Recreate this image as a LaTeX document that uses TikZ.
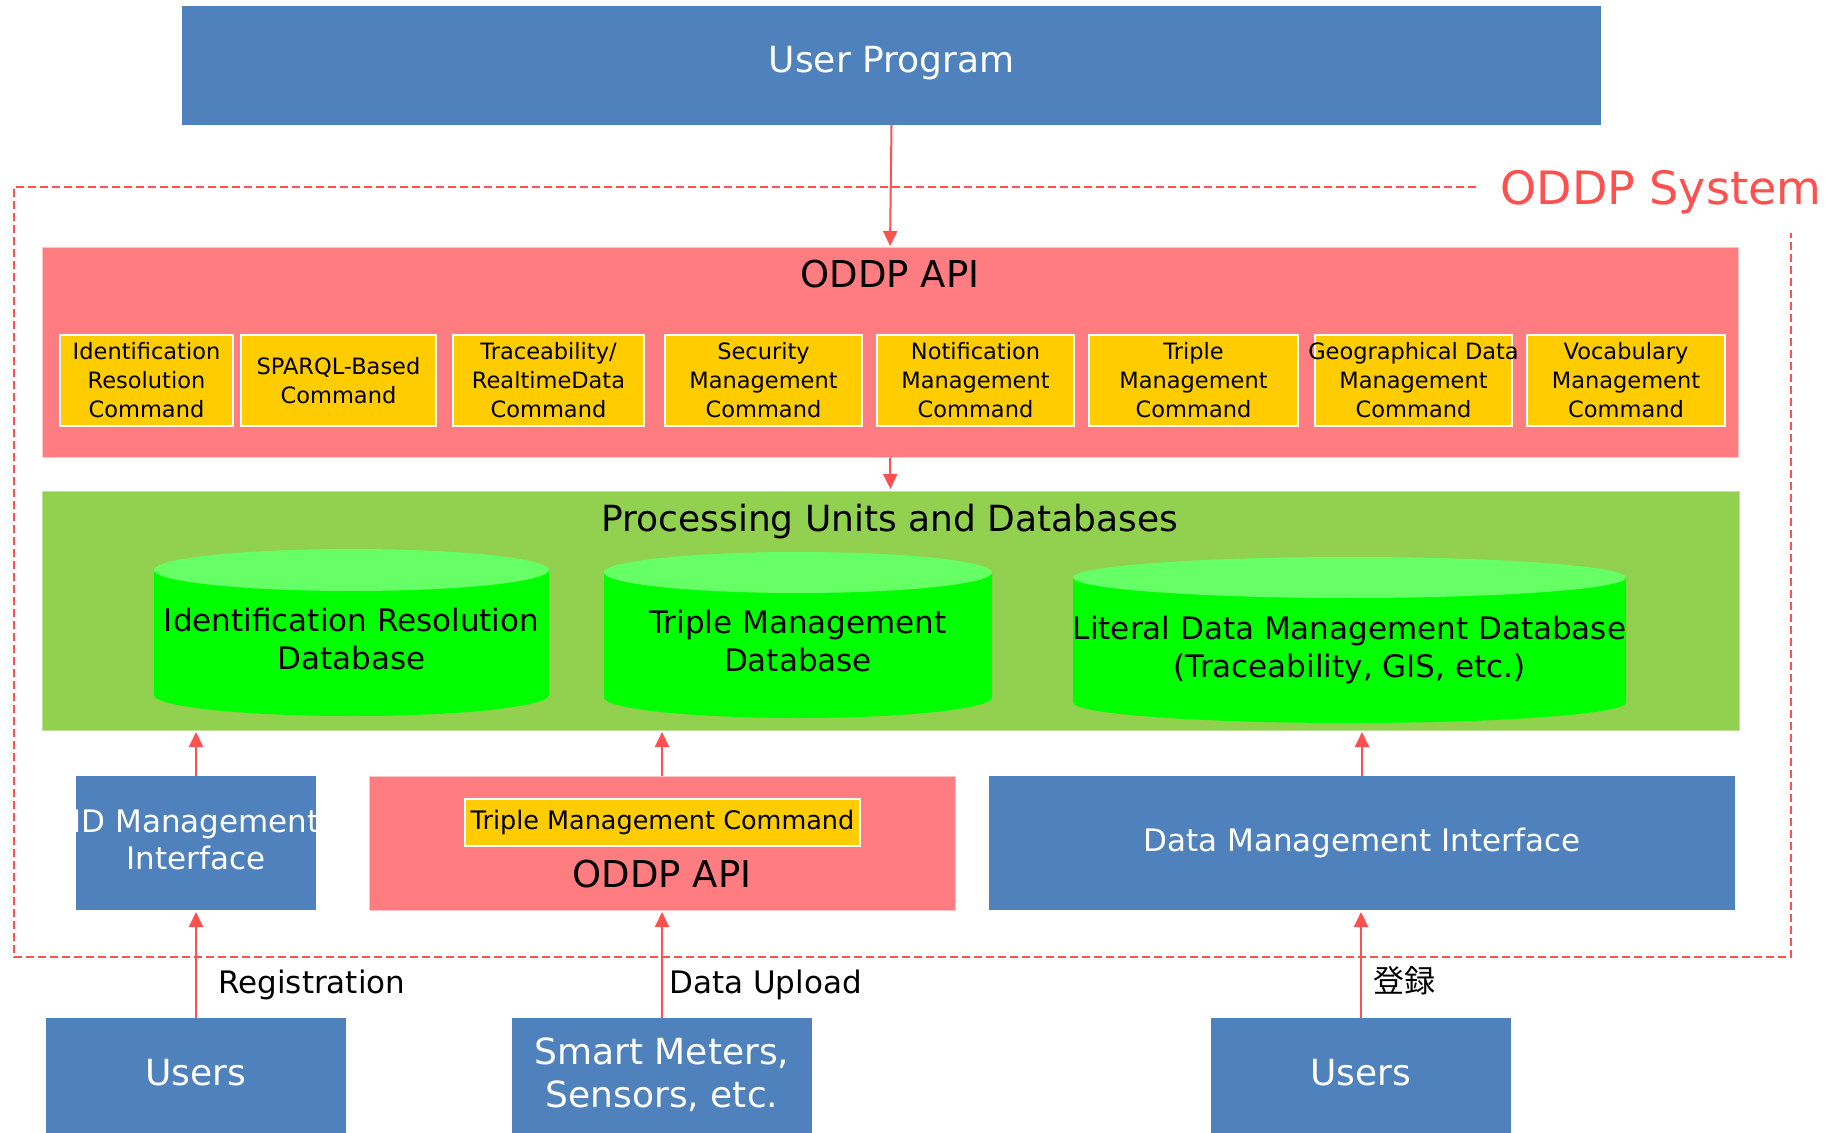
\documentclass[tikz,border=0pt]{standalone}
\usepackage{fontspec}
\setmainfont{DejaVu Sans}
\newfontfamily\cjkfont{Noto Sans CJK JP}
\usetikzlibrary{fit,arrows.meta}
\definecolor{oblue}{HTML}{4F81BD}
\definecolor{opink}{HTML}{FF7C80}
\definecolor{oyellow}{HTML}{FFCC00}
\definecolor{ogreen}{HTML}{92D050}
\definecolor{cylbodyc}{HTML}{00FF00}
\definecolor{cyltopc}{HTML}{66FF66}
\definecolor{ored}{HTML}{FF5050}
\newcommand\dbcyl[6]{%
  \fill[cylbodyc] (#1,#3) -- (#1,#4) arc[start angle=180,end angle=360,x radius=#5,y radius=#6] -- (#2,#3) -- cycle;
  \fill[cyltopc] ({(#1+#2)/2},#3) ellipse[x radius=#5, y radius=#6];
}
\begin{document}
\begin{tikzpicture}[x=0.5pt,y=-0.5pt,
  box/.style={inner sep=0pt, outer sep=0pt},
  bluebox/.style={box, fill=oblue},
  pinkbox/.style={box, fill=opink, draw=opink!45!white, line width=0.5pt},
  cmdbox/.style={box, fill=oyellow, draw=white, line width=1pt},
  greenbox/.style={box, fill=ogreen, draw=ogreen!60!white, line width=0.5pt},
  arr/.style={draw=ored, line width=1pt, shorten >=1pt, -{Triangle[length=7.5pt,width=7pt]}},
  wtext/.style={text=white, inner sep=0pt, align=center},
  btext/.style={text=black, inner sep=0pt, align=center},
  cmdtext/.style={btext, font=\fontsize{11.25}{14.5}\selectfont},
  bigtext/.style={font=\fontsize{18}{21.5}\selectfont},
  titletext/.style={btext, font=\fontsize{18.5}{22}\selectfont},
  midtext/.style={font=\fontsize{15.5}{18.5}\selectfont},
  cyltext/.style={btext, font=\fontsize{15.5}{19}\selectfont},
  lbltext/.style={text=black, inner sep=0pt, anchor=base west, font=\fontsize{15.5}{18.5}\selectfont}
]
\useasboundingbox (0,0) rectangle (1845,1133);

% ODDP system boundary
\draw[ored, line width=1pt, dash pattern=on 4pt off 2pt] (1476,187) -- (14,187) -- (14,957) -- (1791,957) -- (1791,233);
\node[text=ored, inner sep=0pt, anchor=base west, font=\fontsize{23}{27}\selectfont] (sys) at (1500,205) {ODDP System};

% User program
\node[bluebox, fit={(182,6) (1601,125)}] (up) {};
\node[wtext, bigtext] (upt) at (891.5,63) {User Program};

% ODDP API
\node[pinkbox, fit={(42,248) (1738,458)}] (api) {};
\node[titletext] (apit) at (890,274) {ODDP API};
\node[cmdbox, fit={(60,335) (233,426)}] (y1) {};
\node[cmdbox, fit={(241,335) (436,426)}] (y2) {};
\node[cmdbox, fit={(453,335) (644,426)}] (y3) {};
\node[cmdbox, fit={(665,335) (862,426)}] (y4) {};
\node[cmdbox, fit={(877,335) (1074,426)}] (y5) {};
\node[cmdbox, fit={(1089,335) (1298,426)}] (y6) {};
\node[cmdbox, fit={(1315,335) (1512,426)}] (y7) {};
\node[cmdbox, fit={(1527,335) (1725,426)}] (y8) {};
\node[cmdtext] (y1t) at (y1.center) {Identification\\Resolution\\Command};
\node[cmdtext] (y2t) at (y2.center) {SPARQL-Based\\Command};
\node[cmdtext] (y3t) at (y3.center) {Traceability/\\RealtimeData\\Command};
\node[cmdtext] (y4t) at (y4.center) {Security\\Management\\Command};
\node[cmdtext] (y5t) at (y5.center) {Notification\\Management\\Command};
\node[cmdtext] (y6t) at (y6.center) {Triple\\Management\\Command};
\node[cmdtext] (y7t) at (y7.center) {Geographical Data\\Management\\Command};
\node[cmdtext] (y8t) at (y8.center) {Vocabulary\\Management\\Command};

% Processing units and databases
\node[greenbox, fit={(42,491) (1739,730)}] (pud) {};
\node[btext, bigtext] (pudt) at (890,521.5) {Processing Units and Databases};
\dbcyl{154}{549}{570}{695}{98.75pt}{10.5pt}
\dbcyl{604}{992}{572.5}{697.5}{97pt}{10.25pt}
\dbcyl{1073}{1626}{577.5}{702.5}{138.25pt}{10.25pt}
\node[cyltext] (db1) at (351.5,639) {Identification Resolution\\Database};
\node[cyltext] (db2) at (798,641) {Triple Management\\Database};
\node[cyltext] (db3) at (1349.5,650) {Literal Data Management Database\\(Traceability, GIS, etc.)};

% interfaces
\node[bluebox, fit={(76,776) (316,910)}] (idm) {};
\node[wtext, midtext] (idmt) at (196,840) {ID Management\\Interface};
\node[pinkbox, fit={(369,776) (955,910)}] (api2) {};
\node[cmdbox, fit={(465,799) (860,846)}] (tmc) {};
\node[btext, font=\fontsize{12.75}{15}\selectfont] (tmct) at (tmc.center) {Triple Management Command};
\node[titletext] (api2t) at (662,874) {ODDP API};
\node[bluebox, fit={(989,776) (1735,910)}] (dmi) {};
\node[wtext, midtext] (dmit) at (dmi.center) {Data Management Interface};

% sources
\node[bluebox, fit={(46,1018) (346,1133)}] (u1) {};
\node[wtext, bigtext] (u1t) at (196,1073) {Users};
\node[bluebox, fit={(512,1018) (812,1133)}] (sm) {};
\node[wtext, bigtext] (smt) at (662,1075) {Smart Meters,\\Sensors, etc.};
\node[bluebox, fit={(1211,1018) (1511,1133)}] (u2) {};
\node[wtext, bigtext] (u2t) at (1361,1073) {Users};

% connectors
\draw[arr] (up.south) -- (api.north);
\draw[arr] (api.south) -- (pud.north);
\draw[arr] (idm.north) -- (idm.north |- pud.south);
\draw[arr] (api2.north) -- (api2.north |- pud.south);
\draw[arr] (dmi.north) -- (dmi.north |- pud.south);
\draw[arr] (u1.north) -- (idm.south);
\draw[arr] (sm.north) -- (api2.south);
\draw[arr] (u2.north) -- (u2.north |- dmi.south);

% labels
\node[lbltext] (lreg) at (218,993) {Registration};
\node[lbltext] (lup) at (669,993) {Data Upload};
\node[lbltext, font=\cjkfont\fontsize{15.5}{18.5}\selectfont] (ljp) at (1373,992) {登録};
\end{tikzpicture}
\end{document}
